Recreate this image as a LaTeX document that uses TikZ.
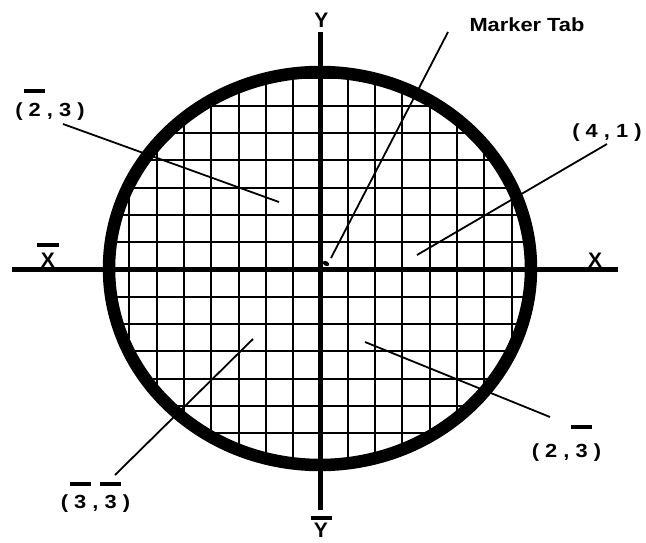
\documentclass[tikz,border=0pt]{standalone}
\usepackage{fontspec}
\usepackage{graphicx}
\setmainfont{Liberation Sans}
\newfontfamily\labfont{Liberation Sans Bold}[FakeStretch=1.15]
\newfontfamily\axfont{Liberation Sans Bold}
\newcommand\ovbar[2][24pt]{{\setbox0\hbox{#2}\rlap{\hbox to\wd0{\hss\rule[#1]{21pt}{4pt}\hss}}\box0}}
\begin{document}
\begin{tikzpicture}[x=1pt,y=-1pt,
  lab/.style={font=\labfont\fontsize{19}{22}\selectfont, inner sep=0pt, anchor=base},
  axlab/.style={font=\axfont\fontsize{21}{24}\selectfont, inner sep=0pt, anchor=base},
  gridline/.style={line width=2pt},
  axisline/.style={line width=4.5pt},
  rim/.style={line width=12.5pt},
  leader/.style={line width=1.8pt}]
\useasboundingbox (0,0) rectangle (646,543);
\fill[white] (0,0) rectangle (646,543);
% grid clipped to the wafer
\begin{scope}
  \clip (320,268.5) ellipse [x radius=211pt, y radius=196.5pt];
  \foreach \k in {-7,...,7} {
    \draw[gridline] (320.5+27.3*\k, 60) -- (320.5+27.3*\k, 480);
    \draw[gridline] (100, 269.5+27.3*\k) -- (540, 269.5+27.3*\k);
  }
\end{scope}
% axes
\coordinate (ytop) at (320.5,32);
\coordinate (ybot) at (320.5,510);
\coordinate (xleft) at (12,269.5);
\coordinate (xright) at (618,269.5);
\draw[axisline] (ytop) -- (ybot);
\draw[axisline] (xleft) -- (xright);
% rim
\draw[rim] (320,268.5) ellipse [x radius=211pt, y radius=196.5pt];
% marker tab dot
\fill[rotate around={-30:(326,263.5)}] (326,263.5) ellipse [x radius=3.5pt, y radius=2.3pt];
% axis labels
\node[axlab] (ylab) at (321.5,28) {Y};
\node[axlab] (ybarlab) at (321,537) {\ovbar[17pt]{Y}};
\node[axlab] (xlab) at (595,267) {X};
\node[axlab] (xbarlab) at (48,267) {\ovbar[20pt]{X}};
% point labels
\node[lab] (mtab) at (527,32) {Marker Tab};
\node[lab] (l41) at (607,137) {( 4 , 1 )};
\node[lab] (lm23) at (50,117) {( \ovbar[24pt]{2} , 3 )};
\node[lab] (l2m3) at (566.5,457) {( 2 , \ovbar[28pt]{3} )};
\node[lab] (lm3m3) at (95.5,508) {( \ovbar[22pt]{3} , \ovbar[22pt]{3} )};
% leader end points
\coordinate (mtabA) at (448,32);   \coordinate (mtabB) at (331,258);
\coordinate (a41) at (607,144);    \coordinate (b41) at (417,255);
\coordinate (am23) at (63,124);    \coordinate (bm23) at (279,202);
\coordinate (a2m3) at (550,417);   \coordinate (b2m3) at (365,342);
\coordinate (am3m3) at (115,475);  \coordinate (bm3m3) at (253,339);
\draw[leader] (mtabA) -- (mtabB);
\draw[leader] (a41) -- (b41);
\draw[leader] (am23) -- (bm23);
\draw[leader] (a2m3) -- (b2m3);
\draw[leader] (am3m3) -- (bm3m3);
\end{tikzpicture}
\end{document}
